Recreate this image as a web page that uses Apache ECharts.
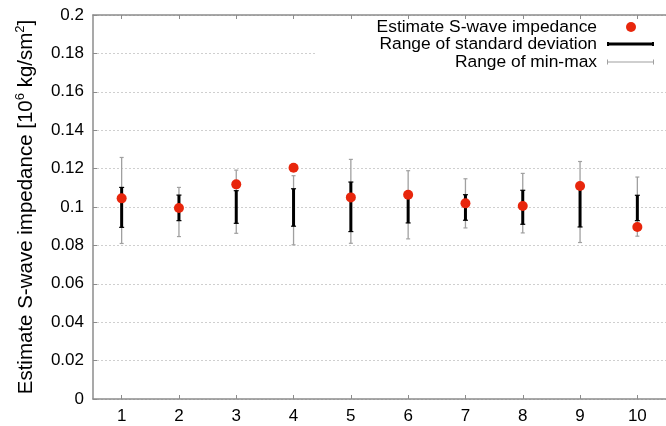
<!DOCTYPE html>
<html>
<head>
<meta charset="utf-8">
<script src="https://cdn.jsdelivr.net/npm/echarts@6/dist/echarts.min.js"></script>
<style>
html,body{margin:0;padding:0;background:#fff;}
#chart{width:666px;height:426px;}
</style>
</head>
<body>
<div id="chart"></div>
<script>
const categories = ['1','2','3','4','5','6','7','8','9','10'];
const estimate = [0.1045, 0.0995, 0.1118, 0.1204, 0.1050, 0.1064, 0.1019, 0.1005, 0.1109, 0.0896];
const stdLow   = [0.0894, 0.0929, 0.0915, 0.0900, 0.0872, 0.0917, 0.0931, 0.0910, 0.0896, 0.0929];
const stdHigh  = [0.1102, 0.1062, 0.1085, 0.1095, 0.1130, 0.1050, 0.1064, 0.1087, 0.1095, 0.1061];
const mmLow    = [0.0810, 0.0846, 0.0863, 0.0803, 0.0811, 0.0834, 0.0891, 0.0865, 0.0815, 0.0848];
const mmHigh   = [0.1258, 0.1102, 0.1192, 0.1163, 0.1248, 0.1189, 0.1147, 0.1175, 0.1237, 0.1156];

const FONT = "'Liberation Sans', Arial, Helvetica, sans-serif";
const RED = '#e8260c';
const GRAY = '#a0a0a0';
const AXIS = '#8c8c8c';

function errorBar(color, width, capW) {
  return function (params, api) {
    const x = api.value(0);
    const lo = api.coord([x, api.value(1)]);
    const hi = api.coord([x, api.value(2)]);
    const style = { stroke: color, lineWidth: width };
    const capStyle = { stroke: color, lineWidth: 1.2 };
    return {
      type: 'group',
      children: [
        { type: 'line', shape: { x1: lo[0], y1: lo[1], x2: hi[0], y2: hi[1] }, style: style },
        { type: 'line', shape: { x1: lo[0] - capW / 2, y1: lo[1], x2: lo[0] + capW / 2, y2: lo[1] }, style: capStyle },
        { type: 'line', shape: { x1: hi[0] - capW / 2, y1: hi[1], x2: hi[0] + capW / 2, y2: hi[1] }, style: capStyle }
      ]
    };
  };
}

const chart = echarts.init(document.getElementById('chart'), null, { renderer: 'canvas' });

const legendText = { color: '#000', fontSize: 17.4, fontFamily: FONT, lineHeight: 18, padding: [0, 5, 0, 0] };
const legendText1 = Object.assign({}, legendText, { padding: [0, 24, 0, 0] });

chart.setOption({
  animation: false,
  backgroundColor: '#fff',
  textStyle: { fontFamily: FONT },
  grid: { left: 93, top: 15, right: -8, bottom: 27, containLabel: false },
  graphic: [{
    type: 'rect', left: 315, top: 20, z: 3,
    shape: { width: 360, height: 56 },
    style: { fill: '#fff' }
  }],
  legend: [
    { data: [{ name: 'Estimate S-wave impedance', icon: 'circle' }], right: 30, top: 18, padding: 0,
      align: 'right', itemWidth: 10, itemHeight: 10, textStyle: legendText1, z: 5 },
    { data: [{ name: 'Range of standard deviation', icon: 'path://M0,0h2v4h-2zM0,0.5h47v3h-47zM45,0h2v4h-2z',
      itemStyle: { color: '#000' } }], right: 12, top: 35, padding: 0,
      align: 'right', itemWidth: 47, itemHeight: 4, textStyle: legendText, z: 5 },
    { data: [{ name: 'Range of min-max', icon: 'path://M0,0h1v5h-1zM0,2h47v1h-47zM46,0h1v5h-1z',
      itemStyle: { color: GRAY } }], right: 12, top: 53, padding: 0,
      align: 'right', itemWidth: 47, itemHeight: 5, textStyle: legendText, z: 5 }
  ],
  xAxis: [
    {
      type: 'category', data: categories, boundaryGap: true, position: 'bottom',
      axisLine: { show: true, lineStyle: { color: AXIS, width: 1.5 } },
      axisTick: { show: true, inside: true, alignWithLabel: true, length: 4, lineStyle: { color: AXIS } },
      axisLabel: { color: '#000', fontSize: 17, fontFamily: FONT, margin: 9 },
      splitLine: { show: false }
    },
    {
      type: 'category', data: categories, boundaryGap: true, position: 'top',
      axisLine: { show: true, lineStyle: { color: AXIS, width: 1.5 } },
      axisTick: { show: true, inside: true, alignWithLabel: true, length: 4, lineStyle: { color: AXIS } },
      axisLabel: { show: false },
      splitLine: { show: false }
    }
  ],
  yAxis: {
    type: 'value', min: 0, max: 0.2, interval: 0.02,
    name: 'Estimate S-wave impedance [10{sup|6} kg/sm{sup|2}]',
    nameLocation: 'middle', nameRotate: 90, nameGap: 55,
    nameTextStyle: {
      color: '#000', fontSize: 20.5, fontFamily: FONT, lineHeight: 24,
      rich: { sup: { fontSize: 13, fontFamily: FONT, color: '#000', verticalAlign: 'top', lineHeight: 14 } }
    },
    axisLine: { show: true, lineStyle: { color: AXIS, width: 1.5 } },
    axisTick: { show: true, inside: true, length: 4, lineStyle: { color: AXIS } },
    axisLabel: { color: '#000', fontSize: 17, fontFamily: FONT, margin: 9 },
    splitLine: { show: true, lineStyle: { color: '#cfcfcf', type: [2, 2], width: 1 } }
  },
  series: [
    {
      name: 'Range of min-max', type: 'custom', z: 2,
      renderItem: errorBar(GRAY, 1.3, 4),
      itemStyle: { color: GRAY },
      data: categories.map((c, i) => [i, mmLow[i], mmHigh[i]]),
      encode: { x: 0, y: [1, 2] }
    },
    {
      name: 'Range of standard deviation', type: 'custom', z: 3,
      renderItem: errorBar('#000', 3, 5),
      itemStyle: { color: '#000' },
      data: categories.map((c, i) => [i, stdLow[i], stdHigh[i]]),
      encode: { x: 0, y: [1, 2] }
    },
    {
      name: 'Estimate S-wave impedance', type: 'scatter', z: 4,
      symbol: 'circle', symbolSize: 10,
      itemStyle: { color: RED, opacity: 1 },
      data: estimate
    }
  ]
});
</script>
</body>
</html>
